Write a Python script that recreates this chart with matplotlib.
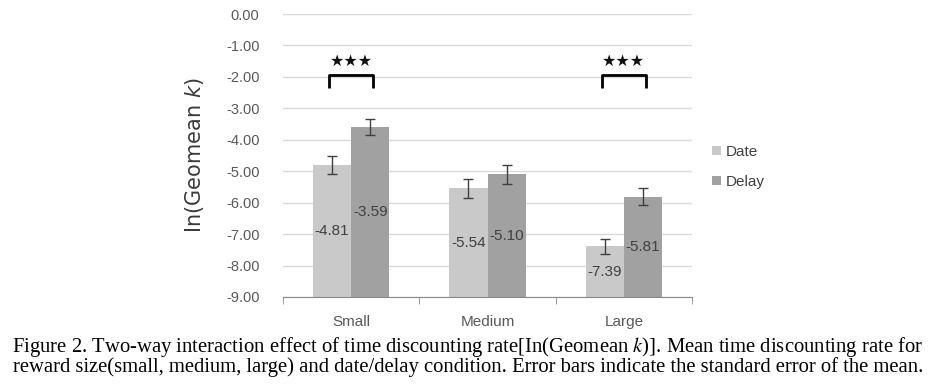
import numpy as np
import matplotlib
matplotlib.use('Agg')
import matplotlib.pyplot as plt

plt.rcParams['font.family'] = ['Liberation Sans Narrow', 'Liberation Sans', 'DejaVu Sans']

categories = ['Small', 'Medium', 'Large']
series = ['Date', 'Delay']
date_vals = [-4.81, -5.54, -7.39]
delay_vals = [-3.59, -5.10, -5.81]
date_err = [0.28, 0.30, 0.25]
delay_err = [0.26, 0.30, 0.28]
sig_groups = [0, 2]
sig_text = '\u2605\u2605\u2605'
yticks = [0, -1, -2, -3, -4, -5, -6, -7, -8, -9]
caption = ['Figure 2. Two-way interaction effect of time discounting rate[In(Geomean $\\it{k}$)]. '
           'Mean time discounting rate for',
           'reward size(small, medium, large) and date/delay condition. '
           'Error bars indicate the standard error of the mean.']

c_date = '#c9c9c9'
c_delay = '#a1a1a1'
base = -9.0

fig = plt.figure(figsize=(9.36, 3.86), dpi=100)
ax = fig.add_axes([0.3024, 0.2306, 0.437, 0.7331])

x = np.arange(len(categories))
w = 0.28
b1 = ax.bar(x - w / 2, np.array(date_vals) - base, w, bottom=base, color=c_date, label=series[0], zorder=2)
b2 = ax.bar(x + w / 2, np.array(delay_vals) - base, w, bottom=base, color=c_delay, label=series[1], zorder=2)
ax.errorbar(x - w / 2, date_vals, yerr=date_err, fmt='none', ecolor='#404040', elinewidth=1, capsize=3.5, capthick=1, zorder=3)
ax.errorbar(x + w / 2, delay_vals, yerr=delay_err, fmt='none', ecolor='#404040', elinewidth=1, capsize=3.5, capthick=1, zorder=3)

for bars, vals in [(b1, date_vals), (b2, delay_vals)]:
    ax.bar_label(bars, labels=['%.2f' % v for v in vals], label_type='center',
                 fontsize=11, color='#404040')

# significance brackets
for g in sig_groups:
    ax.plot([g - 0.16, g - 0.16, g + 0.16, g + 0.16], [-2.35, -1.95, -1.95, -2.35],
            color='black', lw=2, solid_capstyle='butt', zorder=4)
    ax.text(g, -1.5, sig_text, ha='center', va='center', fontsize=11.5,
            family='DejaVu Sans', color='#111111')

ax.set_ylim(-9, 0)
ax.set_xlim(-0.5, 2.5)
ax.set_yticks(yticks)
ax.set_yticklabels(['%.2f' % t for t in yticks], fontsize=10.5, color='#595959')
ax.set_xticks(x)
ax.set_xticklabels(categories, fontsize=11, color='#595959')
ax.set_xticks([-0.5, 0.5, 1.5, 2.5], minor=True)
ax.tick_params(axis='x', which='major', length=0, pad=13)
ax.tick_params(axis='x', which='minor', length=5, color='#888888', direction='out')
ax.tick_params(axis='y', length=0, pad=17)
ax.grid(axis='y', color='#d9d9d9', lw=1, zorder=0)
for s in ['left', 'right', 'top']:
    ax.spines[s].set_visible(False)
ax.spines['bottom'].set_color('#888888')

ax.set_ylabel('In(Geomean $\\it{k}$)', fontsize=15, color='#3a3a3a', family='DejaVu Sans',
              labelpad=14)

ax.legend(loc='center left', bbox_to_anchor=(1.015, 0.46), frameon=False, fontsize=11,
          handlelength=0.6, handleheight=0.6, handletextpad=0.3, labelspacing=1.05,
          labelcolor='#404040')

for i, line in enumerate(caption):
    fig.text(0.5, 1 - (347 + i * 20.5) / 386, line, ha='center', va='center',
             fontsize=14.9, family='Liberation Serif', math_fontfamily='stix')

fig.savefig('out.png', dpi=100)
